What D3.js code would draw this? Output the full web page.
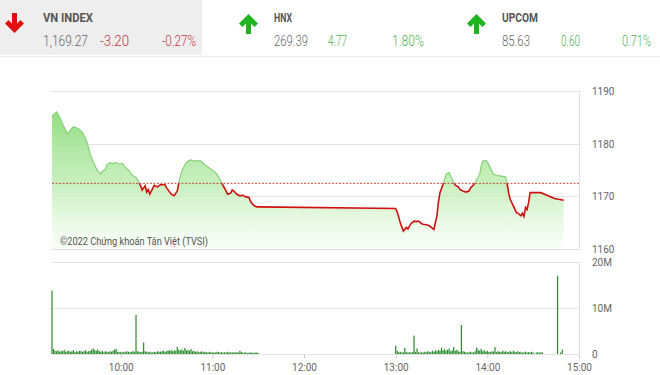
<!DOCTYPE html>
<html>
<head>
<meta charset="utf-8">
<script src="https://cdn.jsdelivr.net/npm/d3@7"></script>
<style>
    body { margin: 0; background: #fff; }
    svg { display: block; font-family: Roboto, "Liberation Sans", sans-serif; }
    .grid line { stroke: #e2e2e2; shape-rendering: crispEdges; }
    .axis-label { font-size: 10px; fill: #666; }
</style>
</head>
<body>
<svg id="chart" width="660" height="375"></svg>
<script>
// Header quotes
var indexNames = ["VN INDEX", "HNX", "UPCOM"];
var indexValues = ["1,169.27", "269.39", "85.63"];
var indexChanges = ["-3.20", "4.77", "0.60"];
var indexPercents = ["-0.27%", "1.80%", "0.71%"];
var indexUp = [false, true, true];

// Intraday VN-Index (time, value)
var refPrice = 1172.47;
var priceTimes = ["9:15","9:18","9:20","9:22","9:24","9:25","9:27","9:29","9:31","9:33","9:35","9:37","9:38","9:40","9:42","9:44","9:45","9:47","9:48","9:50","9:51","9:53","9:55","9:57","9:59","10:01","10:03","10:05","10:07","10:08","10:10","10:12","10:13","10:14","10:16","10:17","10:18","10:19","10:20","10:22","10:24","10:26","10:29","10:30","10:32","10:33","10:35","10:37","10:38","10:39","10:40","10:42","10:44","10:46","10:48","10:52","10:55","10:58","11:01","11:03","11:05","11:06","11:08","11:10","11:12","11:13","11:14","11:16","11:18","11:20","11:22","11:24","11:25","11:27","11:29","11:30",
    "13:00","13:01","13:02","13:03","13:05","13:07","13:08","13:10","13:12","13:14","13:15","13:17","13:18","13:20","13:22","13:23","13:25","13:26","13:27","13:28","13:29","13:31","13:32","13:33","13:35","13:36","13:37","13:39","13:41","13:42","13:44","13:46","13:48","13:49","13:51","13:52","13:53","13:55","13:56","13:57","13:59","14:00","14:02","14:04","14:06","14:08","14:12","14:13","14:14","14:15","14:17","14:19","14:20","14:22","14:23","14:24","14:25","14:26","14:27","14:28","14:35","14:44","14:50"];
var priceValues = [1185.2,1186.0,1185.0,1183.7,1182.6,1181.8,1182.6,1183.2,1183.0,1182.7,1182.1,1181.0,1180.2,1178.0,1176.5,1175.3,1174.8,1174.2,1174.8,1175.1,1176.0,1176.4,1176.2,1176.4,1176.1,1176.3,1175.5,1175.0,1174.2,1173.9,1173.6,1172.6,1172.0,1171.2,1172.0,1170.8,1171.3,1170.4,1171.0,1172.1,1171.8,1172.2,1172.2,1171.6,1170.8,1170.4,1170.1,1171.0,1172.5,1173.8,1174.8,1176.0,1176.7,1176.9,1176.7,1176.8,1176.0,1175.4,1174.7,1174.2,1173.2,1172.6,1171.5,1170.4,1170.6,1171.2,1171.0,1170.4,1170.1,1170.2,1169.9,1169.8,1169.0,1168.3,1168.0,1168.0,
    1167.7,1167.0,1166.0,1165.0,1163.4,1164.1,1163.8,1164.8,1165.3,1165.2,1165.3,1164.8,1164.7,1164.6,1164.4,1164.2,1163.7,1165.0,1166.3,1169.0,1170.7,1172.3,1173.2,1174.2,1174.5,1173.8,1173.2,1172.1,1171.8,1171.3,1171.0,1170.8,1171.0,1171.6,1172.2,1172.6,1173.2,1174.2,1175.8,1176.7,1176.8,1176.5,1175.4,1174.2,1174.0,1173.9,1173.7,1172.3,1170.5,1169.4,1168.2,1166.9,1166.8,1166.3,1166.8,1166.2,1167.9,1167.5,1168.8,1170.7,1170.7,1169.6,1169.27];

// Volume per minute, in millions of shares
var volMorningStart = "9:15";
var volMorning = [13.8,
    1.1,0.7,0.6,0.8,0.5,0.7,0.6,0.9,0.5,0.6,
    0.7,0.5,0.6,0.8,0.4,0.6,0.5,0.7,0.6,0.5,
    0.6,0.8,0.5,0.6,0.7,0.9,1.2,0.8,0.7,1.0,
    0.6,0.5,0.7,0.4,0.6,0.5,0.4,0.6,0.5,0.7,
    1.0,1.1,0.5,0.4,0.5,0.3,0.5,0.4,0.6,0.5,
    0.4,0.5,0.6,0.5,8.5,0.6,0.5,0.4,0.5,2.5,
    0.6,0.5,0.4,0.5,0.3,0.4,0.5,0.4,0.6,0.5,
    0.5,0.6,0.7,0.5,0.6,0.8,0.7,0.9,0.6,0.8,
    0.7,1.6,0.9,0.8,1.0,0.7,1.3,0.8,0.9,0.7,
    1.1,0.6,0.7,0.5,0.6,0.4,0.5,0.6,0.4,0.5,
    0.4,0.3,0.5,0.4,0.3,0.4,0.3,0.5,0.4,0.3,
    0.4,0.3,0.4,0.3,0.5,0.3,0.4,0.3,0.4,0.3,
    0.4,0.3,0.7,0.4,0.3,0.3,0.4,0.2,0.3,0.3,
    0.3,0.2,0.3,0.3,0.2];
var volAfternoonStart = "13:00";
var volAfternoon = [1.8,0.7,0.4,0.5,0.3,0.4,1.3,0.4,0.3,0.4,0.3,
    0.4,4.0,0.5,1.2,0.4,0.3,0.4,0.3,0.5,0.4,
    0.6,0.5,0.4,0.7,0.5,0.8,0.6,0.9,0.7,1.4,
    0.8,1.0,0.7,0.9,1.2,0.6,0.8,1.5,0.7,0.9,
    0.6,0.5,6.3,0.6,0.5,0.4,0.3,0.4,0.5,0.3,
    0.4,0.6,1.4,0.9,0.7,1.1,0.6,0.8,0.5,0.7,
    0.5,0.4,0.6,0.5,1.5,0.4,0.6,0.5,0.4,0.7,
    0.5,0.6,0.4,0.5,0.6,0.4,0.7,0.5,0.4,0.6,
    0.4,0.5,0.3,0.4,0.5,0.3,0.4,0.3,0.5,0.3,
    0,0.3,0.4,0.3,0.3,0.4,0,0,0,0,
    0,0,0,0,0,17.0,0,0.3,1.0];

// Axis ticks
var timeTicks = ["10:00", "11:00", "12:00", "13:00", "14:00", "15:00"];
var priceTicks = [1160, 1170, 1180, 1190];
var volTicks = [0, 10, 20];

var parseTime = d3.timeParse("%H:%M");
var svg = d3.select("#chart");

// ---- header ----
svg.append("rect")
    .attr("x", 0).attr("y", 0)
    .attr("width", 202).attr("height", 55)
    .style("fill", "#efeeef");
svg.append("line")
    .attr("x1", 0).attr("x2", 660)
    .attr("y1", 56.5).attr("y2", 56.5)
    .style("stroke", "#ececec");

var headerX = [0, 230, 458];
indexNames.forEach(function(name, i) {
    var g = svg.append("g").attr("transform", "translate(" + headerX[i] + ",0)");
    var color = indexUp[i] ? "#1fb31f" : "#e01010";
    // Thick chevron arrow with a stem
    var arrow = indexUp[i]
        ? "M11,34 L16,34 L16,23.5 L19.5,27 L23,23.5 L13.5,14 L4,23.5 L7.5,27 L11,23.5 Z"
        : "M11,13 L16,13 L16,23.5 L19.5,20 L23,23.5 L13.5,33 L4,23.5 L7.5,20 L11,23.5 Z";
    g.append("path")
        .attr("d", arrow)
        .attr("transform", "translate(" + (indexUp[i] ? 5 : 1) + ",0)")
        .style("fill", color);

    var tx = i == 0 ? 43 : 44;
    g.append("text")
        .attr("x", tx).attr("y", 22)
        .attr("textLength", [50, 18, 36][i])
        .attr("lengthAdjust", "spacingAndGlyphs")
        .style("font-size", "13px").style("font-weight", "bold")
        .style("fill", "#555")
        .text(name);
    g.append("text")
        .attr("x", tx).attr("y", 46)
        .attr("textLength", [45, 34, 28][i])
        .attr("lengthAdjust", "spacingAndGlyphs")
        .style("font-size", "14px").style("font-weight", 300)
        .style("fill", "#666")
        .text(indexValues[i]);
    var chColor = indexUp[i] ? "#4caf50" : "#c8333f";
    g.append("text")
        .attr("x", tx + [57, 54, 59][i]).attr("y", 46)
        .attr("textLength", [29, 19, 19][i])
        .attr("lengthAdjust", "spacingAndGlyphs")
        .style("font-size", "14px").style("font-weight", 300)
        .style("fill", chColor)
        .text(indexChanges[i]);
    g.append("text")
        .attr("x", tx + [119, 118, 120][i]).attr("y", 46)
        .attr("textLength", [34, 32, 29][i])
        .attr("lengthAdjust", "spacingAndGlyphs")
        .style("font-size", "14px").style("font-weight", 300)
        .style("fill", chColor)
        .text(indexPercents[i]);
});

// ---- scales ----
var x = d3.scaleTime()
    .domain([parseTime("9:15"), parseTime("15:00")])
    .range([52, 579]);
var yPrice = d3.scaleLinear().domain([1160, 1190]).range([249, 91]);
var yVol = d3.scaleLinear().domain([0, 20]).range([354, 262]);

// ---- price chart ----
var priceData = priceTimes.map(function(t, i) { return { t: parseTime(t), v: priceValues[i] } });

var grid = svg.append("g").attr("class", "grid");
grid.selectAll(".hp")
        .data(priceTicks)
        .enter()
    .append("line")
        .attr("x1", 52).attr("x2", 579)
        .attr("y1", function(d) { return Math.round(yPrice(d)) + 0.5 })
        .attr("y2", function(d) { return Math.round(yPrice(d)) + 0.5 });
grid.append("line")
    .attr("x1", 579.5).attr("x2", 579.5)
    .attr("y1", yPrice(1190)).attr("y2", yPrice(1160));

var defs = svg.append("defs");
var gradient = defs.append("linearGradient")
    .attr("id", "area-gradient")
    .attr("gradientUnits", "userSpaceOnUse")
    .attr("x1", 0).attr("x2", 0)
    .attr("y1", yPrice(1186)).attr("y2", yPrice(1160));
gradient.append("stop").attr("offset", "0%").style("stop-color", "#8fdc7e").style("stop-opacity", 0.95);
gradient.append("stop").attr("offset", "55%").style("stop-color", "#bfedb3").style("stop-opacity", 0.8);
gradient.append("stop").attr("offset", "100%").style("stop-color", "#f4fcf2").style("stop-opacity", 0.5);

var refY = yPrice(refPrice);
defs.append("clipPath").attr("id", "clip-above")
    .append("rect").attr("x", 0).attr("y", 0).attr("width", 660).attr("height", refY);
defs.append("clipPath").attr("id", "clip-below")
    .append("rect").attr("x", 0).attr("y", refY).attr("width", 660).attr("height", 375 - refY);

var area = d3.area()
    .x(function(d) { return x(d.t) })
    .y0(yPrice(1160))
    .y1(function(d) { return yPrice(d.v) });
svg.append("path")
    .datum(priceData)
    .attr("d", area)
    .style("fill", "url(#area-gradient)");

var line = d3.line()
    .x(function(d) { return x(d.t) })
    .y(function(d) { return yPrice(d.v) });
svg.append("path")
    .datum(priceData)
    .attr("d", line)
    .attr("clip-path", "url(#clip-above)")
    .style("fill", "none")
    .style("stroke", "#86d276")
    .style("stroke-width", 1.2);
svg.append("path")
    .datum(priceData)
    .attr("d", line)
    .attr("clip-path", "url(#clip-below)")
    .style("fill", "none")
    .style("stroke", "#d10f0f")
    .style("stroke-width", 1.6);

// Reference (previous close) line
svg.append("line")
    .attr("x1", 52).attr("x2", 579)
    .attr("y1", refY).attr("y2", refY)
    .style("stroke", "#c0392b")
    .style("stroke-width", 0.9)
    .style("stroke-dasharray", "2,1.5");

svg.append("text")
    .attr("x", 60).attr("y", 245)
    .attr("textLength", 148)
    .attr("lengthAdjust", "spacingAndGlyphs")
    .style("font-size", "11px")
    .style("fill", "#555")
    .text("©2022 Chứng khoán Tân Việt (TVSI)");

svg.append("g").selectAll("text")
        .data(priceTicks)
        .enter()
    .append("text")
        .attr("class", "axis-label")
        .attr("x", 592)
        .attr("y", function(d) { return yPrice(d) + 4 })
        .text(function(d) { return d });

// ---- volume chart ----
grid.selectAll(".hv")
        .data(volTicks)
        .enter()
    .append("line")
        .attr("x1", 52).attr("x2", 579)
        .attr("y1", function(d) { return Math.round(yVol(d)) + 0.5 })
        .attr("y2", function(d) { return Math.round(yVol(d)) + 0.5 });
grid.append("line")
    .attr("x1", 579.5).attr("x2", 579.5)
    .attr("y1", yVol(20)).attr("y2", yVol(0));

function volumeBars(start, values) {
    var t0 = parseTime(start);
    return values.map(function(v, i) { return { t: d3.timeMinute.offset(t0, i), v: v } })
        .filter(function(d) { return d.v > 0 });
}
var volData = volumeBars(volMorningStart, volMorning).concat(volumeBars(volAfternoonStart, volAfternoon));

svg.append("g").selectAll("line")
        .data(volData)
        .enter()
    .append("line")
        .attr("x1", function(d) { return x(d.t) })
        .attr("x2", function(d) { return x(d.t) })
        .attr("y1", yVol(0))
        .attr("y2", function(d) { return yVol(d.v) })
        .style("stroke", "#2a8a2a")
        .style("stroke-width", 1.2);

svg.append("g").selectAll("text")
        .data(volTicks)
        .enter()
    .append("text")
        .attr("class", "axis-label")
        .attr("x", 592)
        .attr("y", function(d) { return yVol(d) + 4 })
        .text(function(d) { return d == 0 ? "0" : d + "M" });

// Time axis
var xAxis = d3.axisBottom(x)
    .tickValues(timeTicks.map(parseTime))
    .tickSize(4)
    .tickFormat(d3.timeFormat("%H:%M"));
var xg = svg.append("g")
    .attr("transform", "translate(0," + (yVol(0) + 0.5) + ")")
    .call(xAxis);
xg.select(".domain").remove();
xg.selectAll(".tick line").style("stroke", "#ccc");
xg.selectAll(".tick text")
    .attr("class", "axis-label")
    .attr("dy", null)
    .attr("y", 16)
    .style("font-family", "Roboto, sans-serif");
</script>
</body>
</html>
